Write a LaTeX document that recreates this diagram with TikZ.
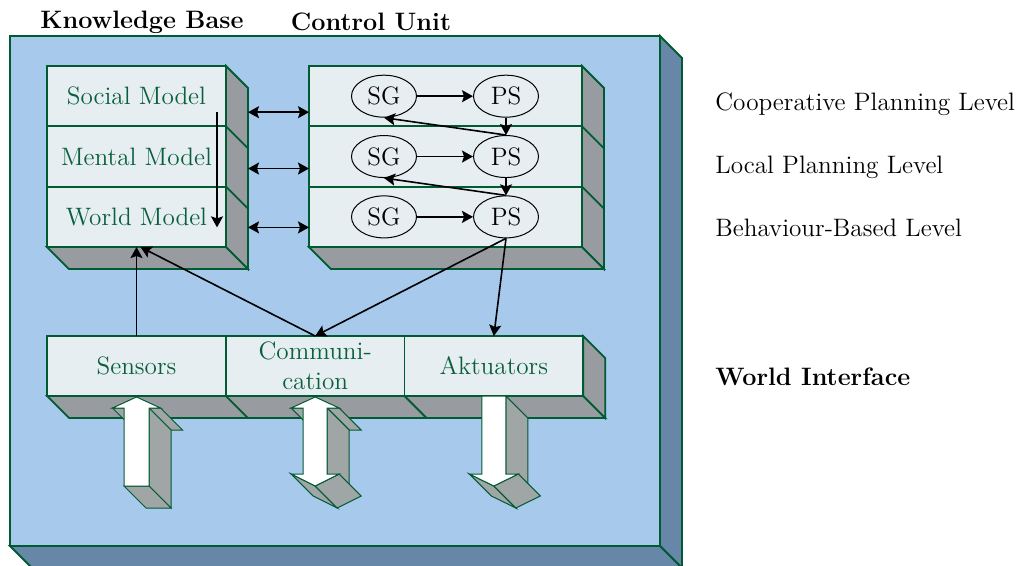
\documentclass[tikz,border=0pt]{standalone}
\usepackage{fontspec}
\usetikzlibrary{arrows.meta, positioning, shapes.geometric, calc}

\definecolor{bgblue}{HTML}{A6C9EC}
\definecolor{deepblue}{HTML}{6787A8}
\definecolor{panel}{HTML}{E6EEF2}
\definecolor{sidegray}{HTML}{989CA0}
\definecolor{arrowgray}{HTML}{A0A6A6}
\definecolor{edgegreen}{HTML}{005A32}
\definecolor{labelgreen}{HTML}{0A5F3C}

\begin{document}
\begin{tikzpicture}[x=0.5pt, y=-0.5pt,
    font=\fontsize{12.6}{14.8}\selectfont,
    >={Stealth[length=5.5pt, width=6pt, inset=1pt]},
    frame/.style={draw=edgegreen, line width=0.9pt, fill=bgblue, minimum width=325pt, minimum height=255pt, inner sep=0pt, outer sep=0pt},
    framedepth/.style={draw=edgegreen, line width=0.9pt, fill=deepblue},
    layer/.style={draw=edgegreen, line width=0.9pt, fill=panel, text=labelgreen, align=center, inner sep=0pt, outer sep=0pt},
    depth/.style={draw=edgegreen, line width=0.9pt, fill=sidegray},
    goal/.style={draw, ellipse, line width=0.5pt, fill=panel, minimum width=32.5pt, minimum height=21pt, inner sep=0pt},
    link/.style={->, line width=0.8pt},
    both/.style={<->, line width=0.8pt},
    bigface/.style={draw=edgegreen, line width=0.5pt, fill=white},
    bigside/.style={draw=edgegreen, line width=0.5pt, fill=arrowgray},
    title/.style={font=\fontsize{12.6}{14.8}\selectfont\bfseries},
    level/.style={anchor=west, inner sep=0pt}
]
\useasboundingbox (0,0) rectangle (1016,566);

% Agent frame
\node[frame] (agent) at (335,291) {};
\filldraw[framedepth] (agent.north east) -- ++(22,22) -- ($(agent.south east)+(22,22)$) -- (agent.south east) -- cycle;
\filldraw[framedepth] (agent.south west) -- ++(22,22) -- ($(agent.south east)+(22,22)$) -- (agent.south east) -- cycle;

\node[title] (kbtitle) at (142,22) {Knowledge Base};
\node[title] (cutitle) at (371,22) {Control Unit};

% Knowledge Base
\node[layer, minimum width=89.5pt, minimum height=30.17pt] (social) at (136.5,96.2) {Social Model};
\node[layer, minimum width=89.5pt, minimum height=30.17pt, below=0pt of social] (mental) {Mental Model};
\node[layer, minimum width=89.5pt, minimum height=30.17pt, below=0pt of mental] (world) {World Model};
\filldraw[depth] (social.north east) -- ++(22,22) -- ($(world.south east)+(22,22)$) -- (world.south east) -- cycle;
\filldraw[depth] (world.south west) -- ++(22,22) -- ($(world.south east)+(22,22)$) -- (world.south east) -- cycle;
\draw[depth] (mental.north east) -- ++(22,22);
\draw[depth] (world.north east) -- ++(22,22);

% Control Unit
\node[layer, minimum width=136.5pt, minimum height=30.17pt, right=41.5pt of social] (cu1) {};
\node[layer, minimum width=136.5pt, minimum height=30.17pt, below=0pt of cu1] (cu2) {};
\node[layer, minimum width=136.5pt, minimum height=30.17pt, below=0pt of cu2] (cu3) {};
\filldraw[depth] (cu1.north east) -- ++(22,22) -- ($(cu3.south east)+(22,22)$) -- (cu3.south east) -- cycle;
\filldraw[depth] (cu3.south west) -- ++(22,22) -- ($(cu3.south east)+(22,22)$) -- (cu3.south east) -- cycle;
\draw[depth] (cu2.north east) -- ++(22,22);
\draw[depth] (cu3.north east) -- ++(22,22);

% World Interface
\node[layer, minimum width=89.33pt, minimum height=30pt] (sensors) at (136.5,366) {Sensors};
\node[layer, minimum width=89.33pt, minimum height=30pt, right=0pt of sensors] (comm) {Communi-\\cation};
\node[layer, minimum width=89.33pt, minimum height=30pt, right=0pt of comm] (aktuators) {Aktuators};
\filldraw[depth] (aktuators.north east) -- ++(22,22) -- ($(aktuators.south east)+(22,22)$) -- (aktuators.south east) -- cycle;
\filldraw[depth] (sensors.south west) -- ++(22,22) -- ($(aktuators.south east)+(22,22)$) -- (aktuators.south east) -- cycle;
\draw[depth] (comm.south west) -- ++(22,22);
\draw[depth] (aktuators.south west) -- ++(22,22);

% solid arrows
\begin{scope}[shift={(sensors.south)}]
\coordinate (s1) at (0,1);
\coordinate (s2) at (24,12);
\coordinate (s3) at (12.5,12);
\coordinate (s4) at (12.5,90);
\coordinate (s5) at (-12.5,90);
\coordinate (s6) at (-12.5,12);
\coordinate (s7) at (-24,12);
\foreach \p/\q in {s7/s6, s2/s3, s3/s4, s4/s5}
    \filldraw[bigside] (\p) -- (\q) -- ($(\q)+(22,22)$) -- ($(\p)+(22,22)$) -- cycle;
\filldraw[bigface] (s1) -- (s2) -- (s3) -- (s4) -- (s5) -- (s6) -- (s7) -- cycle;
\end{scope}

\begin{scope}[shift={(comm.south)}]
\coordinate (c1) at (0,1);
\coordinate (c2) at (24,12);
\coordinate (c3) at (12,12);
\coordinate (c4) at (12,78);
\coordinate (c5) at (24,78);
\coordinate (c6) at (0,90);
\coordinate (c7) at (-24,78);
\coordinate (c8) at (-12,78);
\coordinate (c9) at (-12,12);
\coordinate (c10) at (-24,12);
\foreach \p/\q in {c10/c9, c2/c3, c3/c4, c6/c7, c5/c6}
    \filldraw[bigside] (\p) -- (\q) -- ($(\q)+(22,22)$) -- ($(\p)+(22,22)$) -- cycle;
\filldraw[bigface] (c1) -- (c2) -- (c3) -- (c4) -- (c5) -- (c6) -- (c7) -- (c8) -- (c9) -- (c10) -- cycle;
\end{scope}

\begin{scope}[shift={(aktuators.south)}]
\coordinate (a1) at (-12,0);
\coordinate (a2) at (12,0);
\coordinate (a3) at (12,78);
\coordinate (a4) at (24.5,78);
\coordinate (a5) at (0,90);
\coordinate (a6) at (-24.5,78);
\coordinate (a7) at (-12,78);
\foreach \p/\q in {a2/a3, a5/a6, a4/a5}
    \filldraw[bigside] (\p) -- (\q) -- ($(\q)+(22,22)$) -- ($(\p)+(22,22)$) -- cycle;
\filldraw[bigface] (a1) -- (a2) -- (a3) -- (a4) -- (a5) -- (a6) -- (a7) -- cycle;
\end{scope}

% SG / PS per level
\foreach \r in {1,2,3} {
    \node[goal] (sg\r) at ($(cu\r.west)+(75,0)$) {SG};
    \node[goal] (ps\r) at ($(cu\r.west)+(197,0)$) {PS};
    \draw[link] (sg\r) -- (ps\r);
}
\draw[link] (ps1) -- (ps2);
\draw[link] (ps2.north) -- (sg1.south);
\draw[link] (ps2) -- (ps3);
\draw[link] (ps3.north) -- (sg2.south);

% Knowledge Base <-> Control Unit
\coordinate (kbtop) at ($(social.east)+(-9,16)$);
\coordinate (kbbottom) at ($(world.east)+(-9,10.5)$);
\draw[link] (kbtop) -- (kbbottom);
\foreach \a/\b/\dy in {social/cu1/16, mental/cu2/12, world/cu3/10.5}
    \draw[both] ($(\a.east)+(22,\dy)$) -- ($(\b.west)+(0,\dy)$);

% World Interface links
\draw[link] (sensors.north) -- (world.south);
\draw[link] (comm.north) -- ([xshift=2pt]world.south);
\draw[link] (ps3.south) -- (comm.north);
\draw[link] (ps3.south) -- (aktuators.north);

% Levels
\node[level] (coop) at (715,104) {Cooperative Planning Level};
\node[level] (local) at (715,167) {Local Planning Level};
\node[level] (behav) at (715,228) {Behaviour-Based Level};
\node[level, title] (wi) at (715,377) {World Interface};

\end{tikzpicture}
\end{document}
